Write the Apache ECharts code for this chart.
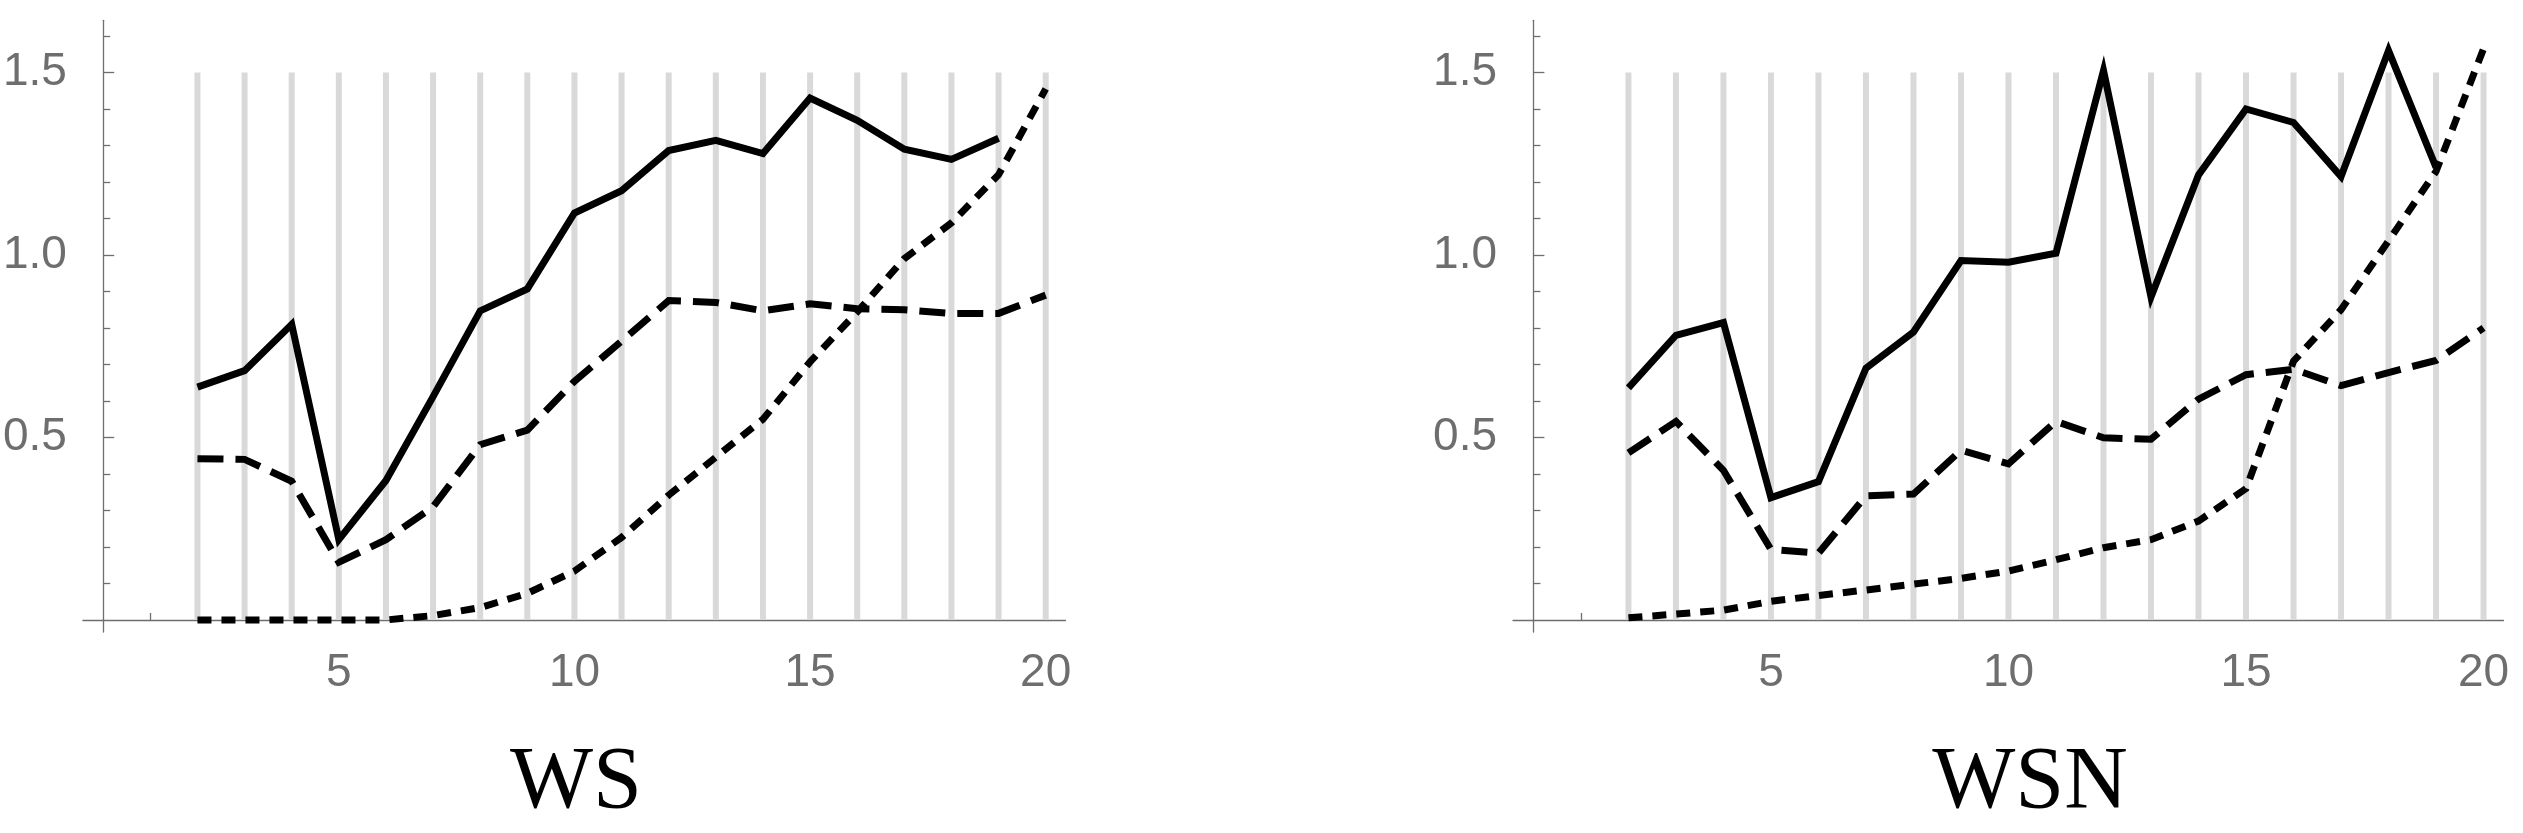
<!DOCTYPE html>
<html>
<head>
<meta charset="utf-8">
<script src="https://cdn.jsdelivr.net/npm/echarts@6.0.0/dist/echarts.min.js"></script>
<style>
  html, body { margin: 0; padding: 0; background: #fff; }
  #chart { width: 2523px; height: 833px; }
</style>
</head>
<body>
<div id="chart"></div>
<script>
// x positions of the points
const xs = [2, 3, 4, 5, 6, 7, 8, 9, 10, 11, 12, 13, 14, 15, 16, 17, 18, 19, 20];

// WS panel
const wsSolid  = [0.638, 0.683, 0.81, 0.22, 0.382, 0.612, 0.847, 0.907, 1.115, 1.176, 1.286, 1.314, 1.278, 1.43, 1.369, 1.29, 1.262, 1.32];
const wsDashed = [0.442, 0.44, 0.38, 0.158, 0.22, 0.31, 0.48, 0.52, 0.654, 0.764, 0.875, 0.87, 0.847, 0.866, 0.853, 0.85, 0.84, 0.84, 0.89];
const wsDotted = [0, 0, 0, 0, 0, 0.012, 0.034, 0.073, 0.134, 0.226, 0.342, 0.446, 0.55, 0.707, 0.844, 0.99, 1.088, 1.22, 1.455];

// WSN panel
const wsnSolid  = [0.636, 0.78, 0.815, 0.335, 0.379, 0.69, 0.789, 0.985, 0.98, 1.005, 1.505, 0.885, 1.219, 1.4, 1.363, 1.215, 1.56, 1.24];
const wsnDashed = [0.458, 0.544, 0.41, 0.193, 0.183, 0.34, 0.345, 0.465, 0.428, 0.544, 0.499, 0.495, 0.605, 0.672, 0.687, 0.642, 0.678, 0.711, 0.80];
const wsnDotted = [0.006, 0.016, 0.027, 0.051, 0.067, 0.082, 0.098, 0.114, 0.134, 0.165, 0.198, 0.22, 0.271, 0.36, 0.709, 0.85, 1.039, 1.229, 1.565];

// gray reference bars
const gridX = [2, 3, 4, 5, 6, 7, 8, 9, 10, 11, 12, 13, 14, 15, 16, 17, 18, 19, 20];
const gridTop = 1.5;

// ticks
const xMajor = [5, 10, 15, 20];
const xMinor = [1, 2, 3, 4, 6, 7, 8, 9, 11, 12, 13, 14, 16, 17, 18, 19];
const yMajor = [0.5, 1.0, 1.5];
const yMinor = [0.1, 0.2, 0.3, 0.4, 0.6, 0.7, 0.8, 0.9, 1.1, 1.2, 1.3, 1.4, 1.6];

const titles = ['WS', 'WSN'];
const panels = [
  { solid: wsSolid, dashed: wsDashed, dotted: wsDotted },
  { solid: wsnSolid, dashed: wsnDashed, dotted: wsnDotted }
];

const X_MIN = -0.43, X_MAX = 20.42;
const Y_MIN = -0.033, Y_MAX = 1.643;
const AXIS_GRAY = '#6e6e6e';
const LABEL_FONT = 'Liberation Sans';

const chart = echarts.init(document.getElementById('chart'));

const grids = [], xAxes = [], yAxes = [], series = [];
const gridLefts = [75, 1513];
const titleX = [576, 2030];

panels.forEach(function (p, g) {
  grids.push({ left: gridLefts[g], top: 20.3, width: 990.5, height: 611.7 });

  const xMainIdx = g * 2, yMainIdx = g * 2;

  // main x axis: line, long ticks, labels
  xAxes.push({
    type: 'value', gridIndex: g, position: 'bottom', min: X_MIN, max: X_MAX,
    axisLine: { show: true, onZero: true, onZeroAxisIndex: yMainIdx, lineStyle: { color: AXIS_GRAY, width: 1.3 } },
    axisTick: { show: true, inside: true, length: 12, customValues: xMajor, lineStyle: { color: AXIS_GRAY, width: 1.3 } },
    axisLabel: { show: true, customValues: xMajor, margin: 18, color: AXIS_GRAY, fontSize: 46, fontFamily: LABEL_FONT },
    splitLine: { show: false }
  });
  // minor x ticks
  xAxes.push({
    type: 'value', gridIndex: g, position: 'top', min: X_MIN, max: X_MAX,
    axisLine: { show: false, onZero: true, onZeroAxisIndex: yMainIdx },
    axisTick: { show: true, inside: false, length: 7, customValues: xMinor, lineStyle: { color: AXIS_GRAY, width: 1.3 } },
    axisLabel: { show: false },
    splitLine: { show: false }
  });

  // main y axis
  yAxes.push({
    type: 'value', gridIndex: g, position: 'left', min: Y_MIN, max: Y_MAX,
    axisLine: { show: true, onZero: true, onZeroAxisIndex: xMainIdx, lineStyle: { color: AXIS_GRAY, width: 1.3 } },
    axisTick: { show: true, inside: true, length: 11, customValues: yMajor, lineStyle: { color: AXIS_GRAY, width: 1.3 } },
    axisLabel: { show: true, customValues: yMajor, margin: 16, color: AXIS_GRAY, fontSize: 46, fontFamily: LABEL_FONT,
                 formatter: function (v) { return v.toFixed(1); } },
    splitLine: { show: false }
  });
  // minor y ticks
  yAxes.push({
    type: 'value', gridIndex: g, position: 'right', min: Y_MIN, max: Y_MAX,
    axisLine: { show: false, onZero: true, onZeroAxisIndex: xMainIdx },
    axisTick: { show: true, inside: false, length: 7, customValues: yMinor, lineStyle: { color: AXIS_GRAY, width: 1.3 } },
    axisLabel: { show: false },
    splitLine: { show: false }
  });

  series.push({
    type: 'bar', xAxisIndex: xMainIdx, yAxisIndex: yMainIdx,
    data: gridX.map(function (x) { return [x, gridTop]; }),
    barWidth: 6, itemStyle: { color: '#d9d9d9' }, silent: true, z: 1
  });

  const styles = [
    { data: p.solid, type: 'solid' },
    { data: p.dashed, type: [26, 12] },
    { data: p.dotted, type: [14, 10] }
  ];
  styles.forEach(function (s) {
    series.push({
      type: 'line', xAxisIndex: xMainIdx, yAxisIndex: yMainIdx,
      data: s.data.map(function (v, i) { return [xs[i], v]; }),
      showSymbol: false, symbol: 'none', silent: true, z: 3,
      lineStyle: { color: '#000', width: 7, type: s.type, join: 'miter', cap: 'butt' }
    });
  });
});

const option = {
  backgroundColor: '#ffffff',
  animation: false,
  grid: grids,
  xAxis: xAxes,
  yAxis: yAxes,
  series: series,
  graphic: titles.map(function (t, g) {
    return {
      type: 'text', x: titleX[g], y: 784,
      style: { text: t, fill: '#000', font: '88px "Liberation Serif"', align: 'center', verticalAlign: 'middle' }
    };
  })
};

chart.setOption(option);
</script>
</body>
</html>
